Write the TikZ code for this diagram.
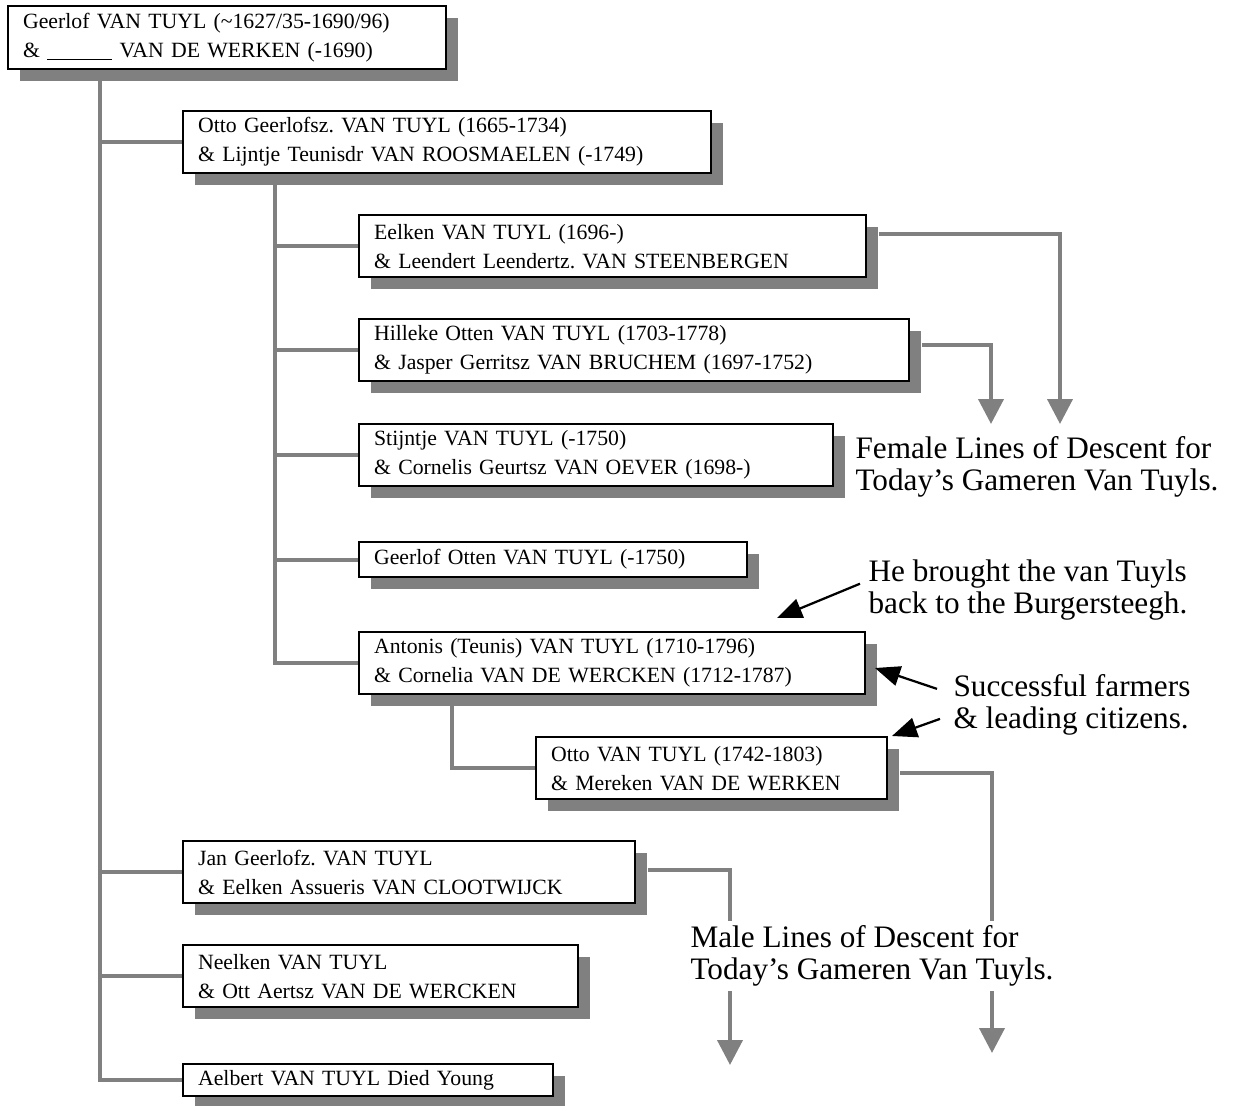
\documentclass[tikz,border=0pt]{standalone}
\usepackage{fontspec}
\setmainfont{Liberation Serif}
\usepackage{xcolor}
\usepackage{tikz}
\usetikzlibrary{calc, shadows, arrows.meta, positioning}
\definecolor{shadegray}{gray}{0.5}
\newcommand{\boxfont}{\fontsize{8.7}{11.6}\selectfont}
\newcommand{\notefont}{\fontsize{12.5}{12.8}\selectfont}
\frenchspacing
\tikzset{
    personnode/.style = {draw, rectangle, line width=0.9pt, fill=white, anchor=north west, 
      inner xsep=6pt, inner ysep=0pt, align=left, font=\boxfont, 
      drop shadow={shadow xshift=4.6pt, shadow yshift=-4.6pt, fill=shadegray, opacity=1}},
    notenode/.style = {draw=none, fill=white, rectangle, anchor=north west, inner sep=2pt, 
      align=left, font=\notefont},
    link/.style = {shadegray, line width=1.6pt},
    descent/.style = {link, -{Triangle[width=10pt,length=10pt]}},
    pointer/.style = {black, line width=0.9pt, -{Triangle[width=8pt,length=10pt]}}
}

\begin{document}
\begin{tikzpicture}[x=0.4pt, y=-0.4pt]
    \useasboundingbox (0,0) rectangle (1241,1106);

    \node [name=geerlof, personnode, text width=163.2pt, minimum height=25.2pt] at (7,5) 
        {Geerlof VAN TUYL (\textasciitilde1627/35-1690/96)\\\& \rule[-1.2pt]{26pt}{0.5pt} VAN DE WERKEN (-1690)};
    \node [name=otto, personnode, text width=199.2pt, minimum height=24.8pt] at (182,110) 
        {Otto Geerlofsz. VAN TUYL (1665-1734)\\\& Lijntje Teunisdr VAN ROOSMAELEN (-1749)};

    \node [name=eelken, personnode, text width=190.8pt, minimum height=24.8pt] at (358,214) 
        {Eelken VAN TUYL (1696-)\\\& Leendert Leendertz. VAN STEENBERGEN};
    \node [name=hilleke, personnode, text width=208pt, minimum height=24.8pt] at (358,318) 
        {Hilleke Otten VAN TUYL (1703-1778)\\\& Jasper Gerritsz VAN BRUCHEM (1697-1752)};
    \node [name=stijntje, personnode, text width=177.6pt, minimum height=24.8pt] at (358,423) 
        {Stijntje VAN TUYL (-1750)\\\& Cornelis Geurtsz VAN OEVER (1698-)};
    \node [name=geerlofo, personnode, text width=143.2pt, minimum height=14pt] at (358,541) 
        {Geerlof Otten VAN TUYL (-1750)};
    \node [name=antonis, personnode, text width=190.4pt, minimum height=24.8pt] at (358,631) 
        {Antonis (Teunis) VAN TUYL (1710-1796)\\\& Cornelia VAN DE WERCKEN (1712-1787)};
    \node [name=ottovt, personnode, text width=128.4pt, minimum height=24.8pt] at (535,736) 
        {Otto VAN TUYL (1742-1803)\\\& Mereken VAN DE WERKEN};

    \node [name=jan, personnode, text width=168.8pt, minimum height=24.8pt] at (182,840) 
        {Jan Geerlofz. VAN TUYL\\\& Eelken Assueris VAN CLOOTWIJCK};
    \node [name=neelken, personnode, text width=146pt, minimum height=24.8pt] at (182,944) 
        {Neelken VAN TUYL\\\& Ott Aertsz VAN DE WERCKEN};
    \node [name=aelbert, personnode, text width=136pt, minimum height=12.8pt] at (182,1063) 
        {Aelbert VAN TUYL Died Young};

    \foreach \kid in {otto, jan, neelken, aelbert}
        \draw [link] ($(geerlof.south west)+(93,0)$) |- (\kid.west);
    \foreach \kid in {eelken, hilleke, stijntje, geerlofo, antonis}
        \draw [link] ($(otto.south west)+(93,0)$) |- (\kid.west);
    \draw [link] ($(antonis.south west)+(94,0)$) |- (ottovt.west);

    \coordinate (femaleA) at (1060,424);
    \coordinate (femaleB) at (991,424);
    \coordinate (maleA) at (992,1053);
    \coordinate (maleB) at (730,1065);
    \draw [descent] ($(eelken.north east)+(12,20)$) -| (femaleA);
    \draw [descent] ($(hilleke.north east)+(12,27)$) -| (femaleB);
    \draw [descent] ($(ottovt.north east)+(12,37)$) -| (maleA);
    \draw [descent] ($(jan.north east)+(12,30)$) -| (maleB);

    \node [name=female, notenode] at (850,431) 
        {Female Lines of Descent for\\Today's Gameren Van Tuyls.};
    \node [name=male, notenode] at (685,920) 
        {Male Lines of Descent for\\Today's Gameren Van Tuyls.};
    \node [name=brought, notenode] at (863,554) 
        {He brought the van Tuyls\\back to the Burgersteegh.};
    \node [name=farmers, notenode] at (948,669) 
        {Successful farmers\\\& leading citizens.};

    \coordinate (broughttip) at (777,618);
    \coordinate (farmerstipA) at (875,668);
    \coordinate (farmerstipB) at (892,736);
    \draw [pointer] ($(brought.west)+(-3,-6)$) -- (broughttip);
    \draw [pointer] ($(farmers.west)+(-11,-16)$) -- (farmerstipA);
    \draw [pointer] ($(farmers.west)+(-8,14)$) -- (farmerstipB);
\end{tikzpicture}
\end{document}
